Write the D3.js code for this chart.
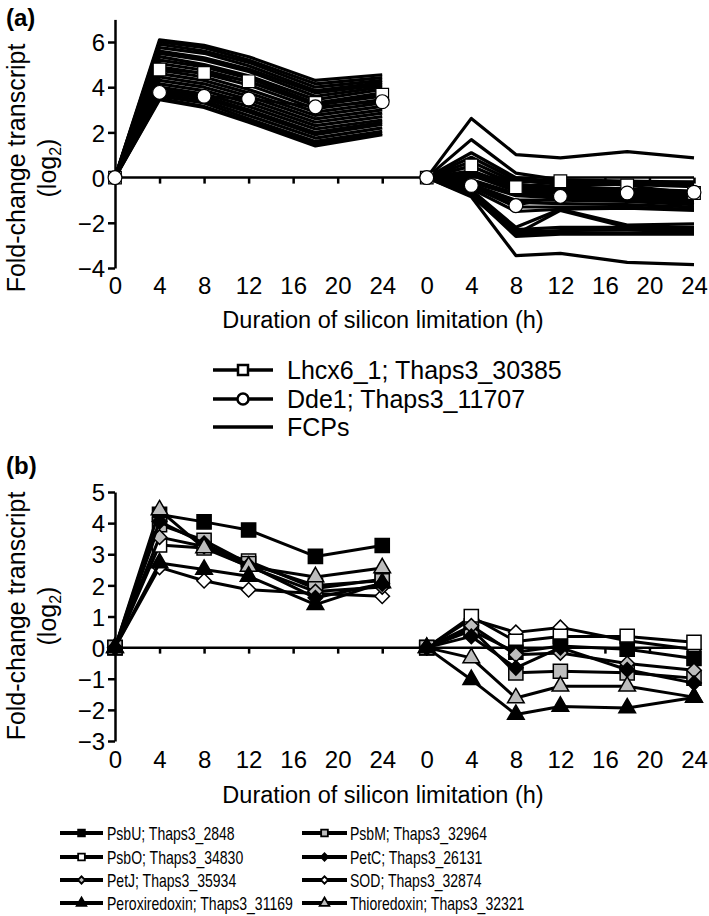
<!DOCTYPE html>
<html><head><meta charset="utf-8">
<script src="https://cdn.jsdelivr.net/npm/d3@7"></script>
<style>
body{margin:0;background:#fff}
svg{display:block;font-family:Arial,"Liberation Sans",Helvetica,sans-serif}
</style>
</head><body>
<svg id="chart" width="709" height="916"></svg>
<script>
// ---------------- DATA ----------------
const timePoints = [0, 4, 8, 12, 18, 24];          // sampling times (h) in each segment
const xTickValues = [0, 4, 8, 12, 16, 20, 24];       // tick labels per segment
const yTicksA = [-4, -2, 0, 2, 4, 6];
const yTicksB = [-3, -2, -1, 0, 1, 2, 3, 4, 5];

// Panel (a)
const lhcx6Left  = [0, 4.78, 4.63, 4.26, 3.30, 3.67];
const lhcx6Right = [0, 0.54, -0.43, -0.16, -0.35, -0.68];
const dde1Left   = [0, 3.77, 3.60, 3.48, 3.13, 3.36];
const dde1Right  = [0, -0.35, -1.24, -0.83, -0.68, -0.65];

const fcpLeft = [
  [0, 6.10, 5.85, 5.35, 4.30, 4.55],
  [0, 6.00, 5.75, 5.20, 4.15, 4.42],
  [0, 5.90, 5.60, 5.10, 4.00, 4.30],
  [0, 5.75, 5.50, 4.95, 3.85, 4.20],
  [0, 5.60, 5.30, 4.80, 3.75, 4.10],
  [0, 5.50, 5.20, 4.70, 3.60, 4.00],
  [0, 5.35, 5.00, 4.50, 3.45, 3.90],
  [0, 5.20, 4.90, 4.40, 3.30, 3.75],
  [0, 5.05, 4.75, 4.25, 3.20, 3.60],
  [0, 4.90, 4.60, 4.10, 3.05, 3.45],
  [0, 4.75, 4.45, 3.90, 2.90, 3.30],
  [0, 4.60, 4.30, 3.75, 2.75, 3.15],
  [0, 4.45, 4.15, 3.60, 2.60, 3.00],
  [0, 4.30, 4.00, 3.45, 2.45, 2.85],
  [0, 4.15, 3.85, 3.30, 2.30, 2.70],
  [0, 4.00, 3.70, 3.15, 2.15, 2.55],
  [0, 3.90, 3.60, 3.00, 2.00, 2.45],
  [0, 3.80, 3.50, 2.90, 1.90, 2.35],
  [0, 3.70, 3.40, 2.75, 1.75, 2.20],
  [0, 3.60, 3.30, 2.60, 1.60, 2.05],
  [0, 3.50, 3.15, 2.50, 1.50, 1.95],
  [0, 3.45, 3.10, 2.45, 1.40, 1.90]
];
const fcpRight = [
  [0, 2.62, 1.02, 0.87, 1.15, 0.87],
  [0, 1.68, 0.20, -0.10, -0.15, -0.20],
  [0, 1.10, 0.00, -0.20, -0.20, -0.30],
  [0, 0.90, -0.10, -0.30, -0.30, -0.40],
  [0, 0.70, -0.20, -0.10, -0.20, -0.20],
  [0, 0.50, -0.30, -0.40, -0.50, -0.60],
  [0, 0.30, -0.40, -0.50, -0.60, -0.70],
  [0, 0.20, -0.50, -0.60, -0.70, -0.80],
  [0, 0.10, -0.60, -0.70, -0.80, -0.90],
  [0, -0.10, -0.70, -0.80, -0.90, -1.00],
  [0, -0.20, -0.80, -0.90, -1.00, -1.10],
  [0, -0.30, -1.00, -1.00, -1.05, -1.20],
  [0, -0.35, -1.10, -1.15, -1.20, -1.30],
  [0, -0.40, -1.30, -1.30, -1.30, -1.40],
  [0, -0.50, -1.50, -1.40, -1.35, -1.45],
  [0, -0.55, -2.20, -1.40, -2.10, -2.05],
  [0, -0.60, -2.30, -2.20, -2.20, -2.20],
  [0, -0.65, -2.40, -2.35, -2.30, -2.30],
  [0, -0.70, -2.50, -2.45, -2.45, -2.40],
  [0, -0.75, -2.60, -2.50, -2.50, -2.50],
  [0, -0.80, -2.50, -1.45, -2.20, -2.30],
  [0, -0.85, -3.45, -3.35, -3.75, -3.85]
];
const legendA = ["Lhcx6_1; Thaps3_30385", "Dde1; Thaps3_11707", "FCPs"];

// Panel (b)
const geneNamesB = [
  "PsbU; Thaps3_2848", "PsbO; Thaps3_34830", "PetJ; Thaps3_35934", "Peroxiredoxin; Thaps3_31169",
  "PsbM; Thaps3_32964", "PetC; Thaps3_26131", "SOD; Thaps3_32874", "Thioredoxin; Thaps3_32321"
];
const valuesBLeft = [
  [0, 4.28, 4.04, 3.78, 2.93, 3.28],   // PsbU
  [0, 3.30, 3.20, 2.78, 1.90, 2.20],   // PsbO
  [0, 3.55, 3.25, 2.60, 1.80, 1.95],   // PetJ
  [0, 2.72, 2.51, 2.29, 1.38, 2.08],   // Peroxiredoxin
  [0, 3.95, 3.45, 2.70, 2.00, 2.15],   // PsbM
  [0, 4.05, 3.35, 2.65, 1.60, 2.05],   // PetC
  [0, 2.58, 2.15, 1.86, 1.74, 1.65],   // SOD
  [0, 4.42, 3.20, 2.61, 2.27, 2.56]    // Thioredoxin
];
const valuesBRight = [
  [0, 0.55, -0.15, 0.05, -0.05, -0.35],  // PsbU
  [0, 1.00, 0.20, 0.36, 0.36, 0.17],     // PsbO
  [0, 0.70, -0.23, -0.17, -0.51, -0.73], // PetJ
  [0, -1.03, -2.15, -1.89, -1.94, -1.60],// Peroxiredoxin
  [0, 0.60, -0.81, -0.76, -0.81, -0.98], // PsbM
  [0, 0.36, -0.65, 0.00, -0.71, -1.14],  // PetC
  [0, 0.92, 0.49, 0.65, 0.22, -0.06],    // SOD
  [0, -0.33, -1.62, -1.24, -1.24, -1.59] // Thioredoxin
];

// ---------------- STYLES ----------------
const stylesB = [
  {shape: "square",   fill: "#000"},
  {shape: "square",   fill: "#fff"},
  {shape: "diamond",  fill: "#bdbdbd"},
  {shape: "triangle", fill: "#000"},
  {shape: "square",   fill: "#bdbdbd"},
  {shape: "diamond",  fill: "#000"},
  {shape: "diamond",  fill: "#fff"},
  {shape: "triangle", fill: "#bdbdbd"}
];
const drawOrderB = [6, 1, 0, 4, 2, 5, 7, 3];

// ---------------- CHART ----------------
const svg = d3.select("#chart");
const SEG = 28; // offset of the second time course on the shared axis
const x = d3.scaleLinear().domain([0, 52]).range([115, 694]);
const allTicks = xTickValues.concat(xTickValues.map(v => v + SEG));
const fmtTick = v => String(v >= SEG ? v - SEG : v);
const FONT = "Arial, Liberation Sans, sans-serif";

function symbolPath(shape, size) {
  if (shape === "square") return d3.symbol(d3.symbolSquare, size)();
  if (shape === "circle") return d3.symbol(d3.symbolCircle, size)();
  if (shape === "triangle") return d3.symbol(d3.symbolTriangle, size)();
  if (shape === "diamond") return d3.symbol(d3.symbolSquare, size)();
}

function drawAxes(g, y, yTicks, xLabelY, titleY, titleX, panelLabel, panelLabelY) {
  g.append("g").attr("transform", `translate(${x(0)},0)`)
    .call(d3.axisLeft(y).tickValues(yTicks).tickSize(7).tickSizeOuter(0)
      .tickFormat(d => d < 0 ? "\u2212" + Math.abs(d) : d))
    .call(a => a.select(".domain").attr("stroke-width", 2.5))
    .call(a => a.selectAll(".tick line").attr("stroke-width", 2.5))
    .call(a => a.selectAll(".tick text").attr("font-size", 24).attr("font-family", FONT)
      .attr("x", -10).attr("dy", "0.36em").attr("fill", "#000"));
  g.append("g").attr("transform", `translate(0,${y(0)})`)
    .call(d3.axisBottom(x).tickValues(allTicks.filter(v => v !== 0)).tickSize(6).tickSizeOuter(0).tickFormat(""))
    .call(a => a.select(".domain").attr("stroke-width", 2.5).attr("d", `M${x(0)},0H${x(52)}`))
    .call(a => a.selectAll(".tick line").attr("stroke-width", 2.5));
  g.append("g").attr("transform", `translate(0,${xLabelY})`)
    .call(d3.axisBottom(x).tickValues(allTicks).tickSize(0).tickFormat(fmtTick))
    .call(a => a.select(".domain").remove())
    .call(a => a.selectAll(".tick text").attr("font-size", 24).attr("font-family", FONT)
      .attr("y", 0).attr("dy", 0).attr("fill", "#000"));
  g.append("text").attr("x", 383).attr("y", titleX).attr("text-anchor", "middle")
    .attr("font-size", 23.5).text("Duration of silicon limitation (h)");
  const yt = g.append("g").attr("transform", `translate(0,${titleY}) rotate(-90)`);
  yt.append("text").attr("x", 0).attr("y", 25).attr("text-anchor", "middle").attr("font-size", 25)
    .text("Fold-change transcript");
  const t2 = yt.append("text").attr("x", 0).attr("y", 56).attr("text-anchor", "middle").attr("font-size", 25);
  t2.append("tspan").text("(log");
  t2.append("tspan").attr("font-size", 16).attr("dy", 5).text("2");
  t2.append("tspan").attr("dy", -5).text(")");
  g.append("text").attr("x", 6).attr("y", panelLabelY).attr("font-size", 24).attr("font-weight", "bold").text(panelLabel);
}

function drawSeries(g, yScale, vals, seg, lw) {
  const ln = d3.line().x((d, i) => x(timePoints[i] + seg)).y(d => yScale(d));
  g.append("path").attr("d", ln(vals)).attr("fill", "none").attr("stroke", "#000")
    .attr("stroke-width", lw).attr("stroke-linejoin", "round");
}

// ---- Panel (a)
const ya = d3.scaleLinear().domain([-4, 7]).range([268, 19.4]);
const ga = svg.append("g");
drawAxes(ga, ya, yTicksA, 294, 168, 328, "(a)", 26);

const fcpG = ga.append("g");
fcpLeft.forEach(v => drawSeries(fcpG, ya, v, 0, 3.2));
fcpRight.forEach(v => drawSeries(fcpG, ya, v, SEG, 3.2));

[[lhcx6Left, 0], [lhcx6Right, SEG]].forEach(([v, s]) => {
  drawSeries(ga, ya, v, s, 2.5);
  ga.append("g").selectAll("path").data(v).join("path")
    .attr("transform", (d, i) => `translate(${x(timePoints[i] + s)},${ya(d)})`)
    .attr("d", symbolPath("square", 160)).attr("fill", "#fff").attr("stroke", "#000").attr("stroke-width", 1.2);
});
[[dde1Left, 0], [dde1Right, SEG]].forEach(([v, s]) => {
  drawSeries(ga, ya, v, s, 2.5);
  ga.append("g").selectAll("path").data(v).join("path")
    .attr("transform", (d, i) => `translate(${x(timePoints[i] + s)},${ya(d)})`)
    .attr("d", symbolPath("circle", 150)).attr("fill", "#fff").attr("stroke", "#000").attr("stroke-width", 1.2);
});

const legA = ga.append("g");
const legAy = [370, 399, 427];
legendA.forEach((name, i) => {
  const row = legA.append("g").attr("transform", `translate(0,${legAy[i]})`);
  row.append("line").attr("x1", 213).attr("x2", 273).attr("stroke", "#000").attr("stroke-width", 3.5);
  if (i < 2) {
    row.append("path").attr("transform", "translate(243,0)")
      .attr("d", symbolPath(i === 0 ? "square" : "circle", i === 0 ? 100 : 95))
      .attr("fill", "#fff").attr("stroke", "#000").attr("stroke-width", 2.5);
  }
  row.append("text").attr("x", 287).attr("y", 9).attr("font-size", 25).text(name);
});

// ---- Panel (b)
const yb = d3.scaleLinear().domain([-3, 5]).range([741, 492]);
const gb = svg.append("g");
drawAxes(gb, yb, yTicksB, 768, 616, 803, "(b)", 474);

const sizeB = {square: 200, diamond: 105, triangle: 120};
drawOrderB.forEach(k => {
  const st = stylesB[k];
  [[valuesBLeft[k], 0], [valuesBRight[k], SEG]].forEach(([v, s]) => {
    drawSeries(gb, yb, v, s, 3);
    gb.append("g").selectAll("path").data(v).join("path")
      .attr("transform", (d, i) => `translate(${x(timePoints[i] + s)},${yb(d)})` + (st.shape === "diamond" ? " rotate(45)" : ""))
      .attr("d", symbolPath(st.shape, sizeB[st.shape])).attr("fill", st.fill).attr("stroke", "#000").attr("stroke-width", 1.5);
  });
});

const legB = gb.append("g");
const legBy = [833, 857, 880, 903];
const legCols = [{x1: 60, x2: 103, tx: 107}, {x1: 302, x2: 347, tx: 350}];
geneNamesB.forEach((name, k) => {
  const col = legCols[Math.floor(k / 4)], rowY = legBy[k % 4], st = stylesB[k];
  const row = legB.append("g").attr("transform", `translate(0,${rowY})`);
  row.append("line").attr("x1", col.x1).attr("x2", col.x2).attr("stroke", "#000").attr("stroke-width", 4);
  const mx = (col.x1 + col.x2) / 2;
  row.append("path").attr("transform", `translate(${mx},0)` + (st.shape === "diamond" ? " rotate(45)" : ""))
    .attr("d", symbolPath(st.shape, st.shape === "square" ? 45 : (st.shape === "diamond" ? 26 : 40)))
    .attr("fill", st.fill).attr("stroke", "#000").attr("stroke-width", 1.8);
  row.append("text").attr("transform", `translate(${col.tx},6.5) scale(0.78,1)`)
    .attr("font-size", 18).text(name);
});
</script>
</body></html>
